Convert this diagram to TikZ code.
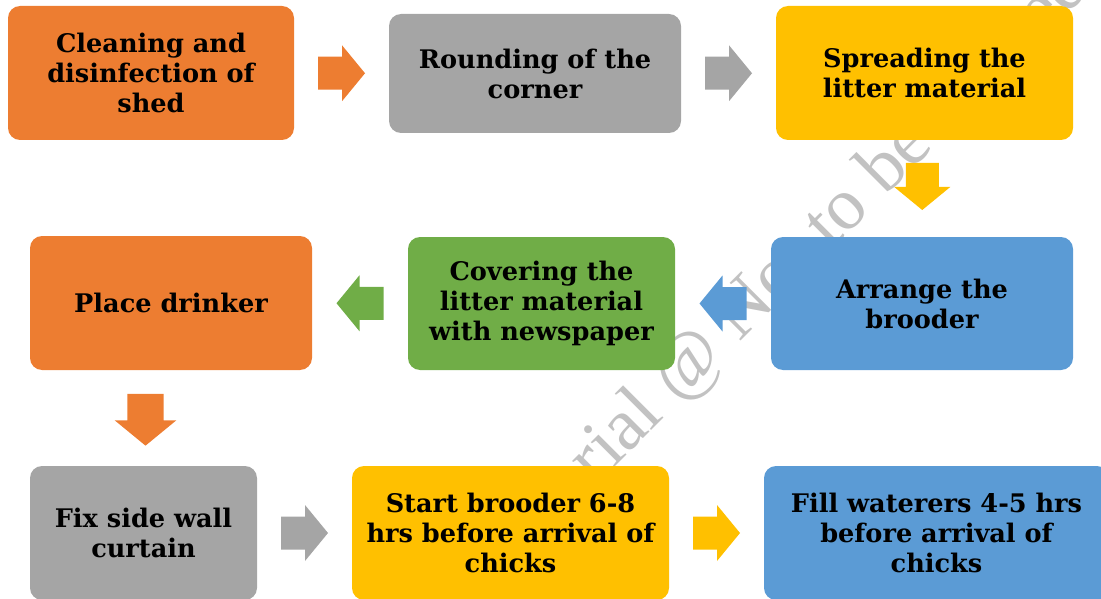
\documentclass[tikz,border=0pt]{standalone}
\usepackage{fontspec}
\setmainfont{DejaVu Serif}
\newfontfamily\markfont{Liberation Serif}
\usetikzlibrary{calc}

\definecolor{cOrange}{HTML}{ED7D31}
\definecolor{cGray}{HTML}{A5A5A5}
\definecolor{cYellow}{HTML}{FFC000}
\definecolor{cBlue}{HTML}{5B9BD5}
\definecolor{cGreen}{HTML}{70AD47}
\definecolor{cMark}{HTML}{C2C2C2}

% the watermark lies lowest, then the arrows, the steps on top
\pgfdeclarelayer{mark}
\pgfdeclarelayer{arrows}
\pgfsetlayers{mark,arrows,main}

\tikzset{
  stepbox/.style={rounded corners=12pt, inner sep=0pt, align=center,
    font=\bfseries\fontsize{25.6}{30}\selectfont, text=black},
  blockarrow/.pic={
    \fill[#1] (-23.5,-16.5) -- (0.5,-16.5) -- (0.5,-28) -- (23.5,0)
      -- (0.5,28) -- (0.5,16.5) -- (-23.5,16.5) -- cycle;
  }
}

\begin{document}
\begin{tikzpicture}[x=1pt,y=-1pt]
  \useasboundingbox (0,0) rectangle (1101,599);
  \clip (0,0) rectangle (1101,599);

  % process steps
  \node[stepbox, fill=cOrange, minimum width=286, minimum height=134] (b1) at (151,73)
    {Cleaning and\\disinfection of\\shed};
  \node[stepbox, fill=cGray, minimum width=292, minimum height=119] (b2) at (535,73.5)
    {Rounding of the\\corner};
  \node[stepbox, fill=cYellow, minimum width=297, minimum height=134] (b3) at (924.5,73)
    {Spreading the\\litter material};
  \node[stepbox, fill=cBlue, minimum width=302, minimum height=133] (b4) at (922,303.5)
    {Arrange the\\brooder};
  \node[stepbox, fill=cGreen, minimum width=267, minimum height=133] (b5) at (541.5,303.5)
    {Covering the\\litter material\\with newspaper};
  \node[stepbox, fill=cOrange, minimum width=282, minimum height=134] (b6) at (171,303)
    {Place drinker};
  \node[stepbox, fill=cGray, minimum width=227, minimum height=134] (b7) at (143.5,533)
    {Fix side wall\\curtain};
  \node[stepbox, fill=cYellow, minimum width=317, minimum height=134] (b8) at (510.5,533)
    {Start brooder 6-8\\hrs before arrival of\\chicks};
  \node[stepbox, fill=cBlue, minimum width=345, minimum height=134] (b9) at (936.5,533)
    {Fill waterers 4-5 hrs\\before arrival of\\chicks};

  % block arrows between steps
  \begin{pgfonlayer}{arrows}
    \pic at ($(b1.east)!0.5!(b2.west)$) {blockarrow=cOrange};
    \pic at ($(b2.east)!0.5!(b3.west)$) {blockarrow=cGray};
    \pic[rotate=-90] at ($(b3.south)!0.5!(b4.north)+(-1,-2)$) {blockarrow=cYellow};
    \pic[rotate=180] at ($(b4.west)!0.5!(b5.east)$) {blockarrow=cBlue};
    \pic[rotate=180] at ($(b5.west)!0.5!(b6.east)$) {blockarrow=cGreen};
    \pic[rotate=-90, scale=1.1] at ($(b7.north)+(2,-46)$) {blockarrow=cOrange};
    \pic at ($(b7.east)!0.5!(b8.west)$) {blockarrow=cGray};
    \pic at ($(b8.east)!0.5!(b9.west)$) {blockarrow=cYellow};
  \end{pgfonlayer}

  % watermark
  \begin{pgfonlayer}{mark}
    \node[anchor=base west, rotate=45, inner sep=0pt, text=cMark,
          font=\markfont\fontsize{74}{74}\selectfont] (mark) at (488,594)
      {Material @ Not to be Shared};
  \end{pgfonlayer}
\end{tikzpicture}
\end{document}
